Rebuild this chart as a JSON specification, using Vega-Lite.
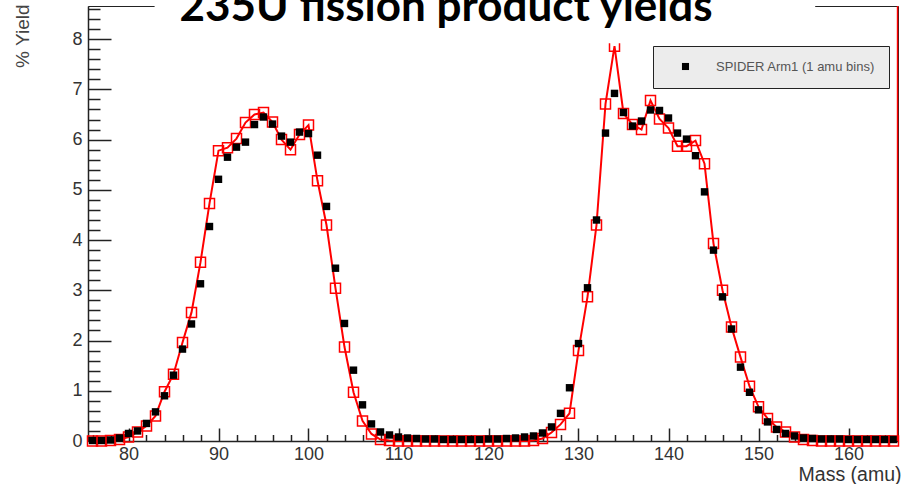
{
  "$schema": "https://vega.github.io/schema/vega-lite/v6.json",
  "width": 810,
  "height": 435,
  "autosize": {"type": "none"},
  "padding": {"left": 88, "top": 6, "right": 3, "bottom": 43},
  "background": "white",
  "config": {"view": {"stroke": "#222", "strokeWidth": 1}},
  "resolve": {"axis": {"x": "independent", "y": "independent"}},
  "data": {
    "values": [
      {"mass": 76, "spider": 0.01, "ref": 0.0},
      {"mass": 77, "spider": 0.01, "ref": 0.0},
      {"mass": 78, "spider": 0.02, "ref": 0.01},
      {"mass": 79, "spider": 0.06, "ref": 0.03},
      {"mass": 80, "spider": 0.15, "ref": 0.08},
      {"mass": 81, "spider": 0.2, "ref": 0.18},
      {"mass": 82, "spider": 0.35, "ref": 0.3},
      {"mass": 83, "spider": 0.58, "ref": 0.5},
      {"mass": 84, "spider": 0.9, "ref": 0.98},
      {"mass": 85, "spider": 1.31, "ref": 1.33},
      {"mass": 86, "spider": 1.83, "ref": 1.96},
      {"mass": 87, "spider": 2.33, "ref": 2.56},
      {"mass": 88, "spider": 3.13, "ref": 3.56},
      {"mass": 89, "spider": 4.27, "ref": 4.73},
      {"mass": 90, "spider": 5.21, "ref": 5.78},
      {"mass": 91, "spider": 5.65, "ref": 5.84},
      {"mass": 92, "spider": 5.85, "ref": 6.02},
      {"mass": 93, "spider": 5.95, "ref": 6.34},
      {"mass": 94, "spider": 6.3, "ref": 6.5},
      {"mass": 95, "spider": 6.45, "ref": 6.54},
      {"mass": 96, "spider": 6.31, "ref": 6.35},
      {"mass": 97, "spider": 6.07, "ref": 6.0},
      {"mass": 98, "spider": 5.95, "ref": 5.8},
      {"mass": 99, "spider": 6.15, "ref": 6.1},
      {"mass": 100, "spider": 6.12, "ref": 6.29},
      {"mass": 101, "spider": 5.69, "ref": 5.18},
      {"mass": 102, "spider": 4.67, "ref": 4.3},
      {"mass": 103, "spider": 3.44, "ref": 3.04},
      {"mass": 104, "spider": 2.34, "ref": 1.87},
      {"mass": 105, "spider": 1.41, "ref": 0.97},
      {"mass": 106, "spider": 0.72, "ref": 0.4},
      {"mass": 107, "spider": 0.34, "ref": 0.14},
      {"mass": 108, "spider": 0.18, "ref": 0.03},
      {"mass": 109, "spider": 0.12, "ref": 0.01},
      {"mass": 110, "spider": 0.08, "ref": 0.0},
      {"mass": 111, "spider": 0.06, "ref": 0.0},
      {"mass": 112, "spider": 0.05, "ref": 0.0},
      {"mass": 113, "spider": 0.04, "ref": 0.0},
      {"mass": 114, "spider": 0.04, "ref": 0.0},
      {"mass": 115, "spider": 0.03, "ref": 0.0},
      {"mass": 116, "spider": 0.03, "ref": 0.0},
      {"mass": 117, "spider": 0.03, "ref": 0.0},
      {"mass": 118, "spider": 0.03, "ref": 0.0},
      {"mass": 119, "spider": 0.03, "ref": 0.0},
      {"mass": 120, "spider": 0.04, "ref": 0.0},
      {"mass": 121, "spider": 0.04, "ref": 0.0},
      {"mass": 122, "spider": 0.05, "ref": 0.0},
      {"mass": 123, "spider": 0.06, "ref": 0.0},
      {"mass": 124, "spider": 0.08, "ref": 0.0},
      {"mass": 125, "spider": 0.1, "ref": 0.01},
      {"mass": 126, "spider": 0.16, "ref": 0.05},
      {"mass": 127, "spider": 0.28, "ref": 0.17},
      {"mass": 128, "spider": 0.55, "ref": 0.33},
      {"mass": 129, "spider": 1.06, "ref": 0.55},
      {"mass": 130, "spider": 1.94, "ref": 1.8},
      {"mass": 131, "spider": 3.05, "ref": 2.87},
      {"mass": 132, "spider": 4.4, "ref": 4.3},
      {"mass": 133, "spider": 6.13, "ref": 6.71},
      {"mass": 134, "spider": 6.92, "ref": 7.86},
      {"mass": 135, "spider": 6.54, "ref": 6.52},
      {"mass": 136, "spider": 6.27, "ref": 6.3},
      {"mass": 137, "spider": 6.37, "ref": 6.2},
      {"mass": 138, "spider": 6.59, "ref": 6.78},
      {"mass": 139, "spider": 6.58, "ref": 6.41},
      {"mass": 140, "spider": 6.43, "ref": 6.23},
      {"mass": 141, "spider": 6.13, "ref": 5.87},
      {"mass": 142, "spider": 6.01, "ref": 5.87},
      {"mass": 143, "spider": 5.68, "ref": 5.98},
      {"mass": 144, "spider": 4.96, "ref": 5.52},
      {"mass": 145, "spider": 3.8, "ref": 3.93},
      {"mass": 146, "spider": 2.87, "ref": 3.0},
      {"mass": 147, "spider": 2.23, "ref": 2.27},
      {"mass": 148, "spider": 1.47, "ref": 1.67},
      {"mass": 149, "spider": 0.97, "ref": 1.09},
      {"mass": 150, "spider": 0.62, "ref": 0.68},
      {"mass": 151, "spider": 0.38, "ref": 0.45},
      {"mass": 152, "spider": 0.23, "ref": 0.28},
      {"mass": 153, "spider": 0.15, "ref": 0.18},
      {"mass": 154, "spider": 0.1, "ref": 0.08},
      {"mass": 155, "spider": 0.06, "ref": 0.03},
      {"mass": 156, "spider": 0.05, "ref": 0.01},
      {"mass": 157, "spider": 0.04, "ref": 0.0},
      {"mass": 158, "spider": 0.04, "ref": 0.0},
      {"mass": 159, "spider": 0.04, "ref": 0.0},
      {"mass": 160, "spider": 0.03, "ref": 0.0},
      {"mass": 161, "spider": 0.03, "ref": 0.0},
      {"mass": 162, "spider": 0.03, "ref": 0.0},
      {"mass": 163, "spider": 0.03, "ref": 0.0},
      {"mass": 164, "spider": 0.03, "ref": 0.0},
      {"mass": 165, "spider": 0.03, "ref": 0.0}
    ]
  },
  "layer": [
    {
      "mark": {"type": "line", "color": "#ff0000", "strokeWidth": 2},
      "encoding": {
        "x": {
          "field": "mass", "type": "quantitative",
          "scale": {"domain": [75.5, 165.5], "nice": false, "zero": false},
          "axis": {
            "orient": "bottom",
            "values": [80, 90, 100, 110, 120, 130, 140, 150, 160],
            "tickSize": -13, "tickWidth": 1.5, "tickColor": "#222",
            "domainColor": "#222", "domainWidth": 1.5,
            "labelPadding": 17, "labelFont": "Liberation Sans", "labelFontSize": 18, "labelColor": "#333",
            "labelFlush": false, "grid": false,
            "labelExpr": "'' + datum.value",
            "title": "Mass (amu)", "titleFont": "Liberation Sans", "titleFontSize": 19.5, "titleFontWeight": "normal",
            "titleColor": "#333", "titleAlign": "right", "titleBaseline": "alphabetic", "titleX": 813, "titleY": 39
          }
        },
        "y": {
          "field": "ref", "type": "quantitative",
          "scale": {"domain": [0, 8.66], "nice": false, "zero": false},
          "axis": {
            "orient": "left",
            "values": [0, 1, 2, 3, 4, 5, 6, 7, 8],
            "tickSize": -23, "tickWidth": 1.5, "tickColor": "#222",
            "domainColor": "#222", "domainWidth": 1.5,
            "labelPadding": 29, "labelFont": "Liberation Sans", "labelFontSize": 18, "labelColor": "#333",
            "labelFlush": false, "grid": false,
            "labelExpr": "'' + datum.value",
            "title": "% Yield", "titleFont": "Liberation Sans", "titleFontSize": 19, "titleFontWeight": "normal",
            "titleColor": "#444", "titleAngle": 270, "titleAlign": "right", "titleBaseline": "middle", "titleX": -66, "titleY": -2
          }
        }
      }
    },
    {
      "mark": {"type": "point", "shape": "square", "filled": false, "stroke": "#ff0000", "strokeWidth": 1.5, "size": 100, "opacity": 1},
      "encoding": {
        "x": {
          "field": "mass", "type": "quantitative",
          "scale": {"domain": [75.5, 165.5], "nice": false, "zero": false},
          "axis": {
            "orient": "bottom",
            "values": [76, 78, 82, 84, 86, 88, 92, 94, 96, 98, 102, 104, 106, 108, 112, 114, 116, 118, 122, 124, 126, 128, 132, 134, 136, 138, 142, 144, 146, 148, 152, 154, 156, 158, 162, 164],
            "tickSize": -6.5, "tickWidth": 1.5, "tickColor": "#222",
            "domain": false, "labels": false, "grid": false, "title": null
          }
        },
        "y": {
          "field": "ref", "type": "quantitative",
          "scale": {"domain": [0, 8.66], "nice": false, "zero": false},
          "axis": {
            "orient": "left",
            "values": [0.2, 0.4, 0.6, 0.8, 1.2, 1.4, 1.6, 1.8, 2.2, 2.4, 2.6, 2.8, 3.2, 3.4, 3.6, 3.8, 4.2, 4.4, 4.6, 4.8, 5.2, 5.4, 5.6, 5.8, 6.2, 6.4, 6.6, 6.8, 7.2, 7.4, 7.6, 7.8, 8.2, 8.4, 8.6],
            "tickSize": -12, "tickWidth": 1.5, "tickColor": "#222",
            "domain": false, "labels": false, "grid": false, "title": null
          }
        }
      }
    },
    {
      "mark": {"type": "point", "shape": "square", "filled": true, "size": 55, "opacity": 1},
      "encoding": {
        "x": {"field": "mass", "type": "quantitative", "scale": {"domain": [75.5, 165.5], "nice": false, "zero": false}, "axis": null},
        "y": {"field": "spider", "type": "quantitative", "scale": {"domain": [0, 8.66], "nice": false, "zero": false}, "axis": null},
        "color": {
          "datum": "SPIDER Arm1 (1 amu bins)",
          "scale": {"range": ["#000000"]},
          "legend": {
            "orient": "none", "legendX": 565, "legendY": 40, "title": null,
            "fillColor": "#ececec", "strokeColor": "#222", "padding": 14,
            "symbolType": "square", "symbolSize": 50, "symbolOffset": 12, "symbolStrokeWidth": 0,
            "labelOffset": 24, "labelFont": "Liberation Sans", "labelFontSize": 13, "labelColor": "#555", "labelLimit": 300
          }
        }
      }
    },
    {
      "data": {"values": [{}]},
      "mark": {"type": "rect", "color": "white"},
      "encoding": {
        "x": {"datum": 82.9, "type": "quantitative", "scale": {"domain": [75.5, 165.5], "nice": false, "zero": false}, "axis": null},
        "x2": {"datum": 156.3},
        "y": {"datum": 8.78, "type": "quantitative", "scale": {"domain": [0, 8.66], "nice": false, "zero": false}, "axis": null},
        "y2": {"datum": 7.92}
      }
    },
    {
      "data": {"values": [{}]},
      "mark": {"type": "text", "text": "235U fission product yields", "font": "Lato", "fontSize": 44, "fontWeight": "bold", "color": "black", "align": "center", "baseline": "alphabetic"},
      "encoding": {
        "x": {"datum": 115.28, "type": "quantitative", "scale": {"domain": [75.5, 165.5], "nice": false, "zero": false}, "axis": null},
        "y": {"datum": 8.37, "type": "quantitative", "scale": {"domain": [0, 8.66], "nice": false, "zero": false}, "axis": null}
      }
    },
    {
      "data": {"values": [{}]},
      "mark": {"type": "rule", "color": "#ff0000", "strokeWidth": 1.5},
      "encoding": {
        "x": {"datum": 165.45, "type": "quantitative", "scale": {"domain": [75.5, 165.5], "nice": false, "zero": false}, "axis": null}
      }
    }
  ]
}
